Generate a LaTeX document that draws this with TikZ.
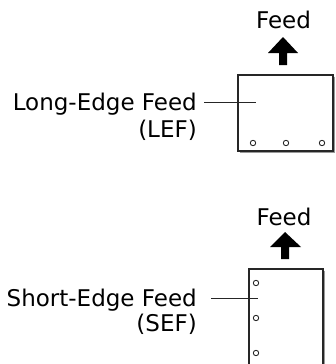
\documentclass[tikz,border=0pt]{standalone}
\usepackage{fontspec}
\setmainfont{DejaVu Sans}
\begin{document}
\begin{tikzpicture}[x=1pt,y=-1pt,
  lbl/.style={font=\fontsize{23}{27}\selectfont, inner sep=0pt},
  paper/.style={draw=black!85, line width=1.3pt},
  shade/.style={draw=black!40, line width=1pt},
  lead/.style={draw=black!85, line width=1pt},
  hole/.style={draw=black!85, line width=0.9pt, fill=white},
  feedarrow/.style={fill=black}]
\useasboundingbox (0,0) rectangle (335,364);
\clip (0,0) rectangle (335,364);
% ---------- LEF ----------
\node[lbl, anchor=base] (feedA) at (283.5,28) {Feed};
\fill[feedarrow] (283,37) -- (298,53) -- (287,53) -- (287,65) -- (279,65) -- (279,53) -- (268,53) -- cycle;
\draw[paper] (238,75) rectangle (333,151);
\draw[shade] (334.3,76.5) -- (334.3,152.5) -- (239.5,152.5);
\foreach \x in {253,286,322} \draw[hole] (\x,143) circle (2.7);
\node[lbl, anchor=base east] (lefA) at (197,110) {Long-Edge Feed};
\node[lbl, anchor=base east] (lefB) at (197,137) {(LEF)};
\coordinate (lefStart) at (204,102);
\coordinate (lefEnd) at (256,102);
\draw[lead] (lefStart) -- (lefEnd);
% ---------- SEF ----------
\node[lbl, anchor=base] (feedB) at (284,225) {Feed};
\fill[feedarrow] (285,232) -- (301,247) -- (289,247) -- (289,259) -- (281,259) -- (281,247) -- (270,247) -- cycle;
\draw[paper] (249,370) -- (249,269) -- (323,269) -- (323,370);
\draw[shade] (324.3,270.5) -- (324.3,370);
\foreach \y in {283,318,353} \draw[hole] (256,\y) circle (2.7);
\node[lbl, anchor=base east] (sefA) at (197,306) {Short-Edge Feed};
\node[lbl, anchor=base east] (sefB) at (197,331) {(SEF)};
\coordinate (sefStart) at (211,298);
\coordinate (sefEnd) at (258,298);
\draw[lead] (sefStart) -- (sefEnd);
\end{tikzpicture}
\end{document}
